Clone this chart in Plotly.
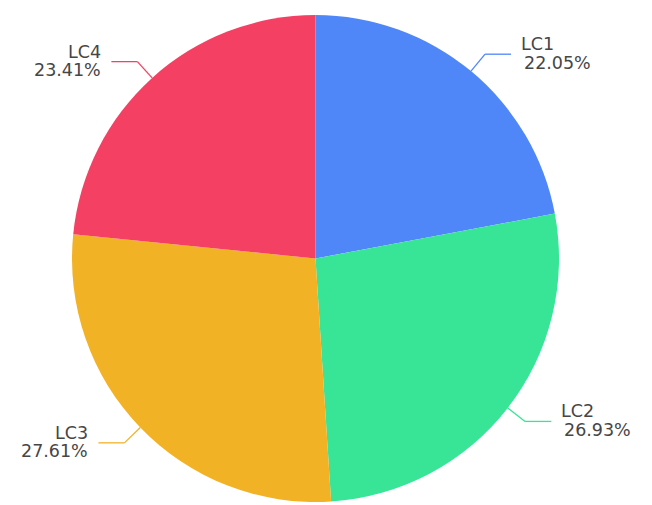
import math
import plotly.graph_objects as go

# dados
labels = ['LC1', 'LC2', 'LC3', 'LC4']
values = [22.05, 26.93, 27.61, 23.41]
colors = ['#5087F8', '#38E597', '#F2B226', '#F44163']

W, H = 652, 505
cx, cy, r = 315.5, 258.5, 243.5   # centro e raio da pizza em pixels
leg1, leg2, gap = 22, 26, 8       # linhas-guia
fonte = dict(size=17.5, color='#464646', family='DejaVu Sans')

fig = go.Figure(go.Pie(
    labels=labels,
    values=values,
    sort=False,
    direction='clockwise',
    rotation=0,
    marker=dict(colors=colors, line=dict(width=0)),
    textinfo='none',
    hoverinfo='label+percent',
    showlegend=False,
    domain=dict(x=[(cx - r) / W, (cx + r) / W], y=[1 - (cy + r) / H, 1 - (cy - r) / H]),
))

total = sum(values)
shapes, annotations = [], []
acc = 0
for lab, val, col in zip(labels, values, colors):
    mid = (acc + val / 2) / total * 2 * math.pi
    acc += val
    s, c = math.sin(mid), -math.cos(mid)
    x0, y0 = cx + r * s, cy + r * c
    x1, y1 = cx + (r + leg1) * s, cy + (r + leg1) * c
    side = 1 if s >= 0 else -1
    x2 = x1 + side * leg2
    for a, b, p, q in [(x0, y0, x1, y1), (x1, y1, x2, y1)]:
        shapes.append(dict(type='line', xref='paper', yref='paper',
                           x0=a / W, y0=1 - b / H, x1=p / W, y1=1 - q / H,
                           line=dict(color=col, width=1.3)))
    pct = f'{val / total * 100:.2f}%'
    # duas linhas de texto separadas (espaçamento mais apertado)
    for txt, dy, dx in [(lab, -10, 0), (pct, 8.5, 3 if side > 0 else 0)]:
        annotations.append(dict(
            text=txt, showarrow=False, xref='paper', yref='paper',
            x=(x2 + side * gap + dx) / W, y=1 - (y1 + dy) / H,
            xanchor='left' if side > 0 else 'right', yanchor='middle',
            font=fonte,
        ))

fig.update_layout(
    width=W, height=H,
    margin=dict(l=0, r=0, t=0, b=0),
    paper_bgcolor='white',
    shapes=shapes,
    annotations=annotations,
)

fig.write_html("out.html", config={'displayModeBar': False},
               post_script="document.body.style.margin='0';")
